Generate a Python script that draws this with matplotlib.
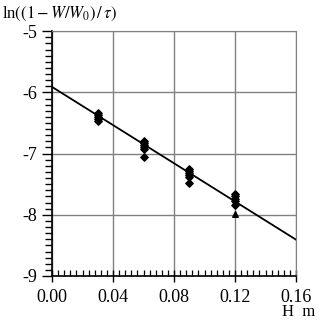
import matplotlib.pyplot as plt
import numpy as np

plt.rcParams["font.family"] = ["Liberation Serif", "DejaVu Serif"]

# measured points (diamonds)
depth_h = [0.03] * 5 + [0.06] * 6 + [0.09] * 6 + [0.12] * 5
ln_vals = [-6.33, -6.37, -6.40, -6.43, -6.47,
           -6.80, -6.83, -6.86, -6.89, -6.93, -7.06,
           -7.25, -7.28, -7.32, -7.35, -7.39, -7.48,
           -7.66, -7.70, -7.74, -7.78, -7.84]
# outlier points (triangles)
tri_h = [0.12]
tri_vals = [-7.98]

# linear fit
fit_intercept = -5.91
fit_slope = -15.6
fit_h = [0.0, 0.16]

x_ticks = [0.00, 0.04, 0.08, 0.12, 0.16]
y_ticks = [-9, -8, -7, -6, -5]

fig = plt.figure(figsize=(3.2, 3.2), dpi=100)
ax = fig.add_axes([0.1625, 0.1375, 0.7625, 0.765])

fit_y = [fit_intercept + fit_slope * h for h in fit_h]
ax.plot(fit_h, fit_y, color="black", lw=1.3, zorder=3)
ax.scatter(depth_h, ln_vals, marker="D", s=14, color="black", zorder=4)
ax.scatter(tri_h, tri_vals, marker="^", s=16, color="black", zorder=4)

ax.set_xlim(0, 0.16)
ax.set_ylim(-9, -5)
ax.set_xticks(x_ticks)
ax.set_xticklabels([f"{v:.2f}" for v in x_ticks])
ax.set_yticks(y_ticks)
ax.set_yticklabels([str(v) for v in y_ticks])
ax.set_xticks(np.linspace(0, 0.16, 41), minor=True)
ax.set_yticks(np.linspace(-9, -5, 41), minor=True)

ax.grid(True, which="major", color="#808080", lw=1.0)
for s in ["top", "right"]:
    ax.spines[s].set_color("#808080")
for s in ["left", "bottom"]:
    ax.spines[s].set_color("black")
    ax.spines[s].set_linewidth(1.2)

ax.tick_params(axis="x", which="major", direction="inout", length=8, width=1.0,
               labelsize=13, pad=5, top=False)
ax.tick_params(axis="x", which="minor", direction="in", length=4, width=0.9,
               color="black", top=False)
ax.tick_params(axis="y", which="major", direction="out", length=7, width=1.0,
               labelsize=13, right=False)
ax.tick_params(axis="y", which="minor", direction="out", length=5, width=1.0,
               color="black", right=False, left=True)

fig.text(0.005, 0.955, r"ln$\left((1-W/W_0)\,/\,\tau\right)$", fontsize=12,
         ha="left", va="center", math_fontfamily="stix")
fig.text(0.985, 0.025, "H  m", fontsize=12, ha="right", va="center")

fig.savefig("out.png", dpi=100)
